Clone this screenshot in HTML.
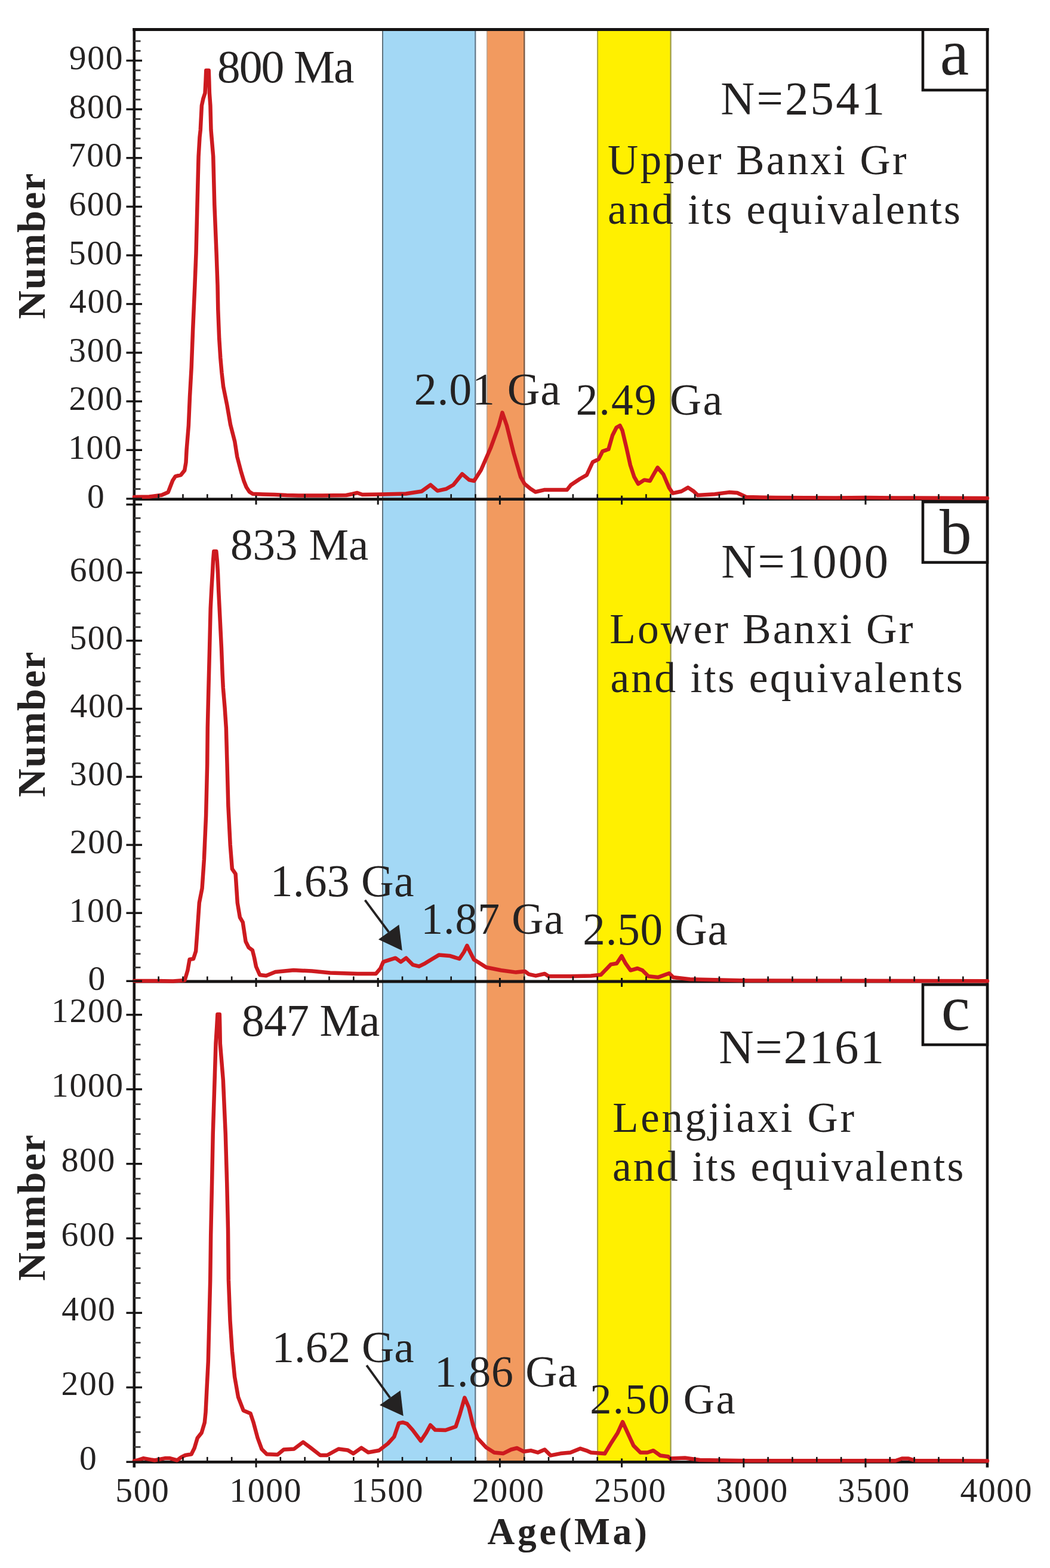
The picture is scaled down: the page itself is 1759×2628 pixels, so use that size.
<!DOCTYPE html><html><head><meta charset="utf-8"><title>Detrital zircon age spectra</title><style>html,body{margin:0;padding:0;background:#fff;}svg{display:block;}</style></head><body>
<svg width="1759" height="2628" viewBox="0 0 1759 2628">
<rect width="1759" height="2628" fill="#fff"/>
<g>
<rect x="641" y="49.5" width="155.5" height="2400.9" fill="#a3d8f5"/>
<rect x="815.5" y="49.5" width="63" height="2400.9" fill="#f29a5f"/>
<rect x="1001" y="49.5" width="123" height="2400.9" fill="#fff000"/>
<line x1="641" y1="49.5" x2="641" y2="2450.4" stroke="#60737e" stroke-width="2"/>
<line x1="796.3" y1="49.5" x2="796.3" y2="2450.4" stroke="#63798a" stroke-width="2.2"/>
<line x1="815.8" y1="49.5" x2="815.8" y2="2450.4" stroke="#bba898" stroke-width="1.6"/>
<line x1="878.3" y1="49.5" x2="878.3" y2="2450.4" stroke="#7e5d48" stroke-width="2.4"/>
<line x1="1001.1" y1="49.5" x2="1001.1" y2="2450.4" stroke="#a8a43c" stroke-width="2"/>
<line x1="1123.6" y1="49.5" x2="1123.6" y2="2450.4" stroke="#9c9a48" stroke-width="2.2"/>
</g>
<g stroke="#161414" fill="none">
<line x1="222.3" y1="49.5" x2="1656.5" y2="49.5" stroke-width="5"/>
<line x1="224.8" y1="47.0" x2="224.8" y2="2459.4" stroke-width="4.6"/>
<line x1="1654.0" y1="47.0" x2="1654.0" y2="2459.4" stroke-width="4.6"/>
<line x1="224.8" y1="836.7" x2="1654.0" y2="836.7" stroke-width="4.8"/>
<line x1="224.8" y1="1645.0" x2="1654.0" y2="1645.0" stroke-width="4.8"/>
<line x1="224.8" y1="2450.4" x2="1654.0" y2="2450.4" stroke-width="4.8"/>
</g>
<g fill="none" stroke="#cd1a1f" stroke-width="6.5" stroke-linejoin="round" stroke-linecap="round">
<polyline points="225,833 250,832.5 270.9,829.7 281.6,825.1 285.5,815 289.3,805.2 293.9,798.3 303.1,796 309.2,788.4 311.5,775 312.6,754 315.9,713.3 318,664.7 320.7,616 323.2,551.1 326.4,478 328.5,424.5 330.5,343.4 332.6,262.2 334.5,230 335.8,218 337.9,177 340.5,165 343.5,156 344.6,135 345.3,118 349.7,118 350.3,135 350.9,156 351.9,170 352.4,177 353.5,218 357.2,262.2 359.3,343.4 362.6,424.5 364.5,478 365.3,518.7 367.2,567.3 369.3,600 371.5,625 374.1,647.8 380.5,679.7 386,711.6 393.3,740 397.3,765.5 404,791 408.6,806.3 412.7,816.5 417.8,824.2 423.4,827.8 440,828.5 460,829 480,830 500,830.5 540,830.5 580,830 590,828 598.5,826 607,829 640.9,828.5 680,827.5 706.3,823.5 721.3,812.7 732.9,822.6 747.8,819.3 759.4,812.7 774.3,794.4 786,804.4 794.2,806 805.8,787.8 822.4,749.7 835.7,713.2 841.5,691.6 849,713.2 860.6,759.6 872.2,799.4 878.8,811 888.8,819.3 897,824.5 911.5,821.1 949.8,821 956.4,812.7 971.3,802.7 982.9,796.1 992.9,774.5 1002.8,769.6 1009.5,756.3 1019.4,753 1026,729.8 1032.7,716.5 1038.5,713.2 1042.6,721.5 1049.3,749.7 1055.9,779.5 1062.5,799.4 1069.2,811 1079.3,804.4 1088.9,806 1095,795 1101.6,783.6 1111.2,794.8 1120.7,817.1 1127.1,826.7 1141.5,823.5 1152.6,817.1 1162.2,823.5 1168.6,829.9 1197.3,828.3 1221.2,825.1 1235,826 1250,833 1300,834 1400,834.5 1450,834 1500,834.5 1654,835"/>
<polyline points="225,1644 260,1644 290,1644.5 309.5,1642.9 314.3,1626.7 317.6,1608 324,1607 328.1,1594.3 330.5,1561.8 333.8,1513.2 338.6,1488.9 341.9,1440.2 345.1,1367.3 347.2,1280 347.8,1219.7 349.4,1153 351.1,1086.6 352.7,1020 354.5,985 356,960 357,940 358.3,924 362.3,924 363.8,940 365,960 366.2,990 367.7,1020 371,1086.6 372.7,1131 373.8,1153 376.6,1186.4 378.8,1219.7 380.5,1280 382.4,1351.1 385.7,1415.9 388.9,1456.4 394.6,1464.6 397.8,1513.2 401.9,1537.5 406.7,1545.6 411.6,1578 416.5,1587.8 422.9,1592.6 426,1605 429,1620 435.2,1634 445.9,1635.2 461.2,1629.1 491.8,1626 522.5,1627.6 553.1,1630.6 599,1632.1 629.6,1632.1 637.3,1623 642.1,1612.1 653.6,1608.3 662.5,1605.7 671.4,1612.1 680.4,1605.7 691.8,1617.2 702,1619.7 712.2,1614.6 722.4,1608.3 735.2,1600.6 753.1,1601.9 769.6,1607 777.3,1595.5 782.4,1585 787.5,1595.5 793.9,1608.3 800,1612.1 814.6,1621.3 839.5,1626.2 864.4,1629.6 879.3,1627.9 885.9,1632.9 897.5,1635.4 912.5,1632 919.1,1636.2 955.6,1636.2 990,1635.5 1006.6,1633.8 1023.2,1616.4 1033.1,1614.7 1041.4,1602.3 1048,1614.7 1056.3,1626.3 1067.9,1623 1076.2,1626.3 1086.2,1636.3 1102.8,1637.9 1121,1631.3 1127.6,1637.9 1155.8,1641.3 1250,1643.5 1654,1644.2"/>
<polyline points="225,2448.4 230.1,2447.5 240.4,2444.1 259.1,2447.5 276.2,2444.1 284.7,2444.1 296.7,2447.5 303.5,2442.4 310.4,2439 320.6,2437.3 325.7,2427 330.8,2410 337.7,2401.4 342.8,2384.3 344.5,2367.3 346.2,2333.1 348.8,2281.9 350.5,2213.6 352.2,2145.4 353.2,2069.8 355.1,1981.8 356.7,1900.7 359.6,1810 361.5,1749 363.3,1720 364.4,1700 367.8,1700 368.3,1720 368.8,1749 373.8,1810 377.8,1900.7 380.2,1981.8 382,2060 382.9,2145.4 385.5,2213.6 388.9,2264.8 393.1,2307.5 399.1,2341.7 407.7,2363.9 419.6,2369 424.7,2384.3 431.6,2410 438.4,2428.7 446.9,2437.3 465,2438.1 475.3,2429.5 492.5,2428.5 507.8,2417 519.3,2425.7 536.5,2439 548,2439 567.1,2428.5 582.4,2430.4 592,2436.2 605.4,2426.6 616.9,2434.3 634.9,2431 649.8,2419.5 660.2,2408.1 668.2,2385.1 675.1,2384 682,2386.3 691.2,2396.6 705,2415 714.1,2401.2 721,2388.5 729.1,2396.6 746.3,2397 763.5,2391 770.4,2370.2 778.4,2342.5 785.3,2358.7 792.2,2387.4 800,2410.4 814.6,2426.1 827.9,2434.4 842.8,2436.1 856.1,2429.5 866,2427 877.6,2432.8 889.3,2431.1 900.9,2434.4 912.5,2429.5 922.4,2439.4 939,2436.1 955.6,2434.4 972.2,2427.8 982.1,2431.1 990,2434.5 1013.2,2436.2 1023.2,2419.6 1034.8,2401.4 1043.1,2383.1 1051.4,2401.4 1061.3,2422.9 1072.9,2434.5 1084.5,2434.5 1094.5,2431.2 1106.1,2439.5 1119.4,2441.2 1122.7,2444.5 1147.5,2443.5 1172.4,2447 1250,2448.3 1500,2448.3 1511,2444.5 1522,2444.5 1533,2448 1654,2448.5"/>
</g>
<g stroke="#161414" fill="none">
<line x1="265.64" y1="828.2" x2="265.64" y2="836.7" stroke-width="2.6"/>
<line x1="306.48" y1="828.2" x2="306.48" y2="836.7" stroke-width="2.6"/>
<line x1="347.32" y1="828.2" x2="347.32" y2="836.7" stroke-width="2.6"/>
<line x1="388.16" y1="828.2" x2="388.16" y2="836.7" stroke-width="2.6"/>
<line x1="429" y1="830.7" x2="429" y2="845.7" stroke-width="3"/>
<line x1="469.84" y1="828.2" x2="469.84" y2="836.7" stroke-width="2.6"/>
<line x1="510.68" y1="828.2" x2="510.68" y2="836.7" stroke-width="2.6"/>
<line x1="551.52" y1="828.2" x2="551.52" y2="836.7" stroke-width="2.6"/>
<line x1="592.36" y1="828.2" x2="592.36" y2="836.7" stroke-width="2.6"/>
<line x1="633.2" y1="830.7" x2="633.2" y2="845.7" stroke-width="3"/>
<line x1="674.04" y1="828.2" x2="674.04" y2="836.7" stroke-width="2.6"/>
<line x1="714.88" y1="828.2" x2="714.88" y2="836.7" stroke-width="2.6"/>
<line x1="755.72" y1="828.2" x2="755.72" y2="836.7" stroke-width="2.6"/>
<line x1="796.56" y1="828.2" x2="796.56" y2="836.7" stroke-width="2.6"/>
<line x1="837.4" y1="830.7" x2="837.4" y2="845.7" stroke-width="3"/>
<line x1="878.24" y1="828.2" x2="878.24" y2="836.7" stroke-width="2.6"/>
<line x1="919.08" y1="828.2" x2="919.08" y2="836.7" stroke-width="2.6"/>
<line x1="959.92" y1="828.2" x2="959.92" y2="836.7" stroke-width="2.6"/>
<line x1="1000.76" y1="828.2" x2="1000.76" y2="836.7" stroke-width="2.6"/>
<line x1="1041.6" y1="830.7" x2="1041.6" y2="845.7" stroke-width="3"/>
<line x1="1082.44" y1="828.2" x2="1082.44" y2="836.7" stroke-width="2.6"/>
<line x1="1123.28" y1="828.2" x2="1123.28" y2="836.7" stroke-width="2.6"/>
<line x1="1164.12" y1="828.2" x2="1164.12" y2="836.7" stroke-width="2.6"/>
<line x1="1204.96" y1="828.2" x2="1204.96" y2="836.7" stroke-width="2.6"/>
<line x1="1245.8" y1="830.7" x2="1245.8" y2="845.7" stroke-width="3"/>
<line x1="1286.64" y1="828.2" x2="1286.64" y2="836.7" stroke-width="2.6"/>
<line x1="1327.48" y1="828.2" x2="1327.48" y2="836.7" stroke-width="2.6"/>
<line x1="1368.32" y1="828.2" x2="1368.32" y2="836.7" stroke-width="2.6"/>
<line x1="1409.16" y1="828.2" x2="1409.16" y2="836.7" stroke-width="2.6"/>
<line x1="1450" y1="830.7" x2="1450" y2="845.7" stroke-width="3"/>
<line x1="1490.84" y1="828.2" x2="1490.84" y2="836.7" stroke-width="2.6"/>
<line x1="1531.68" y1="828.2" x2="1531.68" y2="836.7" stroke-width="2.6"/>
<line x1="1572.52" y1="828.2" x2="1572.52" y2="836.7" stroke-width="2.6"/>
<line x1="1613.36" y1="828.2" x2="1613.36" y2="836.7" stroke-width="2.6"/>
<line x1="265.64" y1="1636.5" x2="265.64" y2="1645" stroke-width="2.6"/>
<line x1="306.48" y1="1636.5" x2="306.48" y2="1645" stroke-width="2.6"/>
<line x1="347.32" y1="1636.5" x2="347.32" y2="1645" stroke-width="2.6"/>
<line x1="388.16" y1="1636.5" x2="388.16" y2="1645" stroke-width="2.6"/>
<line x1="429" y1="1639" x2="429" y2="1654" stroke-width="3"/>
<line x1="469.84" y1="1636.5" x2="469.84" y2="1645" stroke-width="2.6"/>
<line x1="510.68" y1="1636.5" x2="510.68" y2="1645" stroke-width="2.6"/>
<line x1="551.52" y1="1636.5" x2="551.52" y2="1645" stroke-width="2.6"/>
<line x1="592.36" y1="1636.5" x2="592.36" y2="1645" stroke-width="2.6"/>
<line x1="633.2" y1="1639" x2="633.2" y2="1654" stroke-width="3"/>
<line x1="674.04" y1="1636.5" x2="674.04" y2="1645" stroke-width="2.6"/>
<line x1="714.88" y1="1636.5" x2="714.88" y2="1645" stroke-width="2.6"/>
<line x1="755.72" y1="1636.5" x2="755.72" y2="1645" stroke-width="2.6"/>
<line x1="796.56" y1="1636.5" x2="796.56" y2="1645" stroke-width="2.6"/>
<line x1="837.4" y1="1639" x2="837.4" y2="1654" stroke-width="3"/>
<line x1="878.24" y1="1636.5" x2="878.24" y2="1645" stroke-width="2.6"/>
<line x1="919.08" y1="1636.5" x2="919.08" y2="1645" stroke-width="2.6"/>
<line x1="959.92" y1="1636.5" x2="959.92" y2="1645" stroke-width="2.6"/>
<line x1="1000.76" y1="1636.5" x2="1000.76" y2="1645" stroke-width="2.6"/>
<line x1="1041.6" y1="1639" x2="1041.6" y2="1654" stroke-width="3"/>
<line x1="1082.44" y1="1636.5" x2="1082.44" y2="1645" stroke-width="2.6"/>
<line x1="1123.28" y1="1636.5" x2="1123.28" y2="1645" stroke-width="2.6"/>
<line x1="1164.12" y1="1636.5" x2="1164.12" y2="1645" stroke-width="2.6"/>
<line x1="1204.96" y1="1636.5" x2="1204.96" y2="1645" stroke-width="2.6"/>
<line x1="1245.8" y1="1639" x2="1245.8" y2="1654" stroke-width="3"/>
<line x1="1286.64" y1="1636.5" x2="1286.64" y2="1645" stroke-width="2.6"/>
<line x1="1327.48" y1="1636.5" x2="1327.48" y2="1645" stroke-width="2.6"/>
<line x1="1368.32" y1="1636.5" x2="1368.32" y2="1645" stroke-width="2.6"/>
<line x1="1409.16" y1="1636.5" x2="1409.16" y2="1645" stroke-width="2.6"/>
<line x1="1450" y1="1639" x2="1450" y2="1654" stroke-width="3"/>
<line x1="1490.84" y1="1636.5" x2="1490.84" y2="1645" stroke-width="2.6"/>
<line x1="1531.68" y1="1636.5" x2="1531.68" y2="1645" stroke-width="2.6"/>
<line x1="1572.52" y1="1636.5" x2="1572.52" y2="1645" stroke-width="2.6"/>
<line x1="1613.36" y1="1636.5" x2="1613.36" y2="1645" stroke-width="2.6"/>
<line x1="265.64" y1="2441.9" x2="265.64" y2="2450.4" stroke-width="2.6"/>
<line x1="306.48" y1="2441.9" x2="306.48" y2="2450.4" stroke-width="2.6"/>
<line x1="347.32" y1="2441.9" x2="347.32" y2="2450.4" stroke-width="2.6"/>
<line x1="388.16" y1="2441.9" x2="388.16" y2="2450.4" stroke-width="2.6"/>
<line x1="429" y1="2444.4" x2="429" y2="2459.4" stroke-width="3"/>
<line x1="469.84" y1="2441.9" x2="469.84" y2="2450.4" stroke-width="2.6"/>
<line x1="510.68" y1="2441.9" x2="510.68" y2="2450.4" stroke-width="2.6"/>
<line x1="551.52" y1="2441.9" x2="551.52" y2="2450.4" stroke-width="2.6"/>
<line x1="592.36" y1="2441.9" x2="592.36" y2="2450.4" stroke-width="2.6"/>
<line x1="633.2" y1="2444.4" x2="633.2" y2="2459.4" stroke-width="3"/>
<line x1="674.04" y1="2441.9" x2="674.04" y2="2450.4" stroke-width="2.6"/>
<line x1="714.88" y1="2441.9" x2="714.88" y2="2450.4" stroke-width="2.6"/>
<line x1="755.72" y1="2441.9" x2="755.72" y2="2450.4" stroke-width="2.6"/>
<line x1="796.56" y1="2441.9" x2="796.56" y2="2450.4" stroke-width="2.6"/>
<line x1="837.4" y1="2444.4" x2="837.4" y2="2459.4" stroke-width="3"/>
<line x1="878.24" y1="2441.9" x2="878.24" y2="2450.4" stroke-width="2.6"/>
<line x1="919.08" y1="2441.9" x2="919.08" y2="2450.4" stroke-width="2.6"/>
<line x1="959.92" y1="2441.9" x2="959.92" y2="2450.4" stroke-width="2.6"/>
<line x1="1000.76" y1="2441.9" x2="1000.76" y2="2450.4" stroke-width="2.6"/>
<line x1="1041.6" y1="2444.4" x2="1041.6" y2="2459.4" stroke-width="3"/>
<line x1="1082.44" y1="2441.9" x2="1082.44" y2="2450.4" stroke-width="2.6"/>
<line x1="1123.28" y1="2441.9" x2="1123.28" y2="2450.4" stroke-width="2.6"/>
<line x1="1164.12" y1="2441.9" x2="1164.12" y2="2450.4" stroke-width="2.6"/>
<line x1="1204.96" y1="2441.9" x2="1204.96" y2="2450.4" stroke-width="2.6"/>
<line x1="1245.8" y1="2444.4" x2="1245.8" y2="2459.4" stroke-width="3"/>
<line x1="1286.64" y1="2441.9" x2="1286.64" y2="2450.4" stroke-width="2.6"/>
<line x1="1327.48" y1="2441.9" x2="1327.48" y2="2450.4" stroke-width="2.6"/>
<line x1="1368.32" y1="2441.9" x2="1368.32" y2="2450.4" stroke-width="2.6"/>
<line x1="1409.16" y1="2441.9" x2="1409.16" y2="2450.4" stroke-width="2.6"/>
<line x1="1450" y1="2444.4" x2="1450" y2="2459.4" stroke-width="3"/>
<line x1="1490.84" y1="2441.9" x2="1490.84" y2="2450.4" stroke-width="2.6"/>
<line x1="1531.68" y1="2441.9" x2="1531.68" y2="2450.4" stroke-width="2.6"/>
<line x1="1572.52" y1="2441.9" x2="1572.52" y2="2450.4" stroke-width="2.6"/>
<line x1="1613.36" y1="2441.9" x2="1613.36" y2="2450.4" stroke-width="2.6"/>
<line x1="211.5" y1="835.9" x2="238" y2="835.9" stroke-width="3.4"/>
<line x1="224.8" y1="819.58" x2="235.5" y2="819.58" stroke-width="2.8" stroke="#3a3838"/>
<line x1="224.8" y1="803.26" x2="235.5" y2="803.26" stroke-width="2.8" stroke="#3a3838"/>
<line x1="224.8" y1="786.95" x2="235.5" y2="786.95" stroke-width="2.8" stroke="#3a3838"/>
<line x1="224.8" y1="770.63" x2="235.5" y2="770.63" stroke-width="2.8" stroke="#3a3838"/>
<line x1="211.5" y1="754.31" x2="238" y2="754.31" stroke-width="3.4"/>
<line x1="224.8" y1="737.99" x2="235.5" y2="737.99" stroke-width="2.8" stroke="#3a3838"/>
<line x1="224.8" y1="721.67" x2="235.5" y2="721.67" stroke-width="2.8" stroke="#3a3838"/>
<line x1="224.8" y1="705.36" x2="235.5" y2="705.36" stroke-width="2.8" stroke="#3a3838"/>
<line x1="224.8" y1="689.04" x2="235.5" y2="689.04" stroke-width="2.8" stroke="#3a3838"/>
<line x1="211.5" y1="672.72" x2="238" y2="672.72" stroke-width="3.4"/>
<line x1="224.8" y1="656.4" x2="235.5" y2="656.4" stroke-width="2.8" stroke="#3a3838"/>
<line x1="224.8" y1="640.08" x2="235.5" y2="640.08" stroke-width="2.8" stroke="#3a3838"/>
<line x1="224.8" y1="623.77" x2="235.5" y2="623.77" stroke-width="2.8" stroke="#3a3838"/>
<line x1="224.8" y1="607.45" x2="235.5" y2="607.45" stroke-width="2.8" stroke="#3a3838"/>
<line x1="211.5" y1="591.13" x2="238" y2="591.13" stroke-width="3.4"/>
<line x1="224.8" y1="574.81" x2="235.5" y2="574.81" stroke-width="2.8" stroke="#3a3838"/>
<line x1="224.8" y1="558.49" x2="235.5" y2="558.49" stroke-width="2.8" stroke="#3a3838"/>
<line x1="224.8" y1="542.18" x2="235.5" y2="542.18" stroke-width="2.8" stroke="#3a3838"/>
<line x1="224.8" y1="525.86" x2="235.5" y2="525.86" stroke-width="2.8" stroke="#3a3838"/>
<line x1="211.5" y1="509.54" x2="238" y2="509.54" stroke-width="3.4"/>
<line x1="224.8" y1="493.22" x2="235.5" y2="493.22" stroke-width="2.8" stroke="#3a3838"/>
<line x1="224.8" y1="476.9" x2="235.5" y2="476.9" stroke-width="2.8" stroke="#3a3838"/>
<line x1="224.8" y1="460.59" x2="235.5" y2="460.59" stroke-width="2.8" stroke="#3a3838"/>
<line x1="224.8" y1="444.27" x2="235.5" y2="444.27" stroke-width="2.8" stroke="#3a3838"/>
<line x1="211.5" y1="427.95" x2="238" y2="427.95" stroke-width="3.4"/>
<line x1="224.8" y1="411.63" x2="235.5" y2="411.63" stroke-width="2.8" stroke="#3a3838"/>
<line x1="224.8" y1="395.31" x2="235.5" y2="395.31" stroke-width="2.8" stroke="#3a3838"/>
<line x1="224.8" y1="379" x2="235.5" y2="379" stroke-width="2.8" stroke="#3a3838"/>
<line x1="224.8" y1="362.68" x2="235.5" y2="362.68" stroke-width="2.8" stroke="#3a3838"/>
<line x1="211.5" y1="346.36" x2="238" y2="346.36" stroke-width="3.4"/>
<line x1="224.8" y1="330.04" x2="235.5" y2="330.04" stroke-width="2.8" stroke="#3a3838"/>
<line x1="224.8" y1="313.72" x2="235.5" y2="313.72" stroke-width="2.8" stroke="#3a3838"/>
<line x1="224.8" y1="297.41" x2="235.5" y2="297.41" stroke-width="2.8" stroke="#3a3838"/>
<line x1="224.8" y1="281.09" x2="235.5" y2="281.09" stroke-width="2.8" stroke="#3a3838"/>
<line x1="211.5" y1="264.77" x2="238" y2="264.77" stroke-width="3.4"/>
<line x1="224.8" y1="248.45" x2="235.5" y2="248.45" stroke-width="2.8" stroke="#3a3838"/>
<line x1="224.8" y1="232.13" x2="235.5" y2="232.13" stroke-width="2.8" stroke="#3a3838"/>
<line x1="224.8" y1="215.82" x2="235.5" y2="215.82" stroke-width="2.8" stroke="#3a3838"/>
<line x1="224.8" y1="199.5" x2="235.5" y2="199.5" stroke-width="2.8" stroke="#3a3838"/>
<line x1="211.5" y1="183.18" x2="238" y2="183.18" stroke-width="3.4"/>
<line x1="224.8" y1="166.86" x2="235.5" y2="166.86" stroke-width="2.8" stroke="#3a3838"/>
<line x1="224.8" y1="150.54" x2="235.5" y2="150.54" stroke-width="2.8" stroke="#3a3838"/>
<line x1="224.8" y1="134.23" x2="235.5" y2="134.23" stroke-width="2.8" stroke="#3a3838"/>
<line x1="224.8" y1="117.91" x2="235.5" y2="117.91" stroke-width="2.8" stroke="#3a3838"/>
<line x1="211.5" y1="101.59" x2="238" y2="101.59" stroke-width="3.4"/>
<line x1="224.8" y1="85.27" x2="235.5" y2="85.27" stroke-width="2.8" stroke="#3a3838"/>
<line x1="224.8" y1="68.95" x2="235.5" y2="68.95" stroke-width="2.8" stroke="#3a3838"/>
<line x1="211.5" y1="1644.3" x2="238" y2="1644.3" stroke-width="3.4"/>
<line x1="224.8" y1="1621.48" x2="235.5" y2="1621.48" stroke-width="2.8" stroke="#3a3838"/>
<line x1="224.8" y1="1598.66" x2="235.5" y2="1598.66" stroke-width="2.8" stroke="#3a3838"/>
<line x1="224.8" y1="1575.84" x2="235.5" y2="1575.84" stroke-width="2.8" stroke="#3a3838"/>
<line x1="224.8" y1="1553.02" x2="235.5" y2="1553.02" stroke-width="2.8" stroke="#3a3838"/>
<line x1="211.5" y1="1530.2" x2="238" y2="1530.2" stroke-width="3.4"/>
<line x1="224.8" y1="1507.38" x2="235.5" y2="1507.38" stroke-width="2.8" stroke="#3a3838"/>
<line x1="224.8" y1="1484.56" x2="235.5" y2="1484.56" stroke-width="2.8" stroke="#3a3838"/>
<line x1="224.8" y1="1461.74" x2="235.5" y2="1461.74" stroke-width="2.8" stroke="#3a3838"/>
<line x1="224.8" y1="1438.92" x2="235.5" y2="1438.92" stroke-width="2.8" stroke="#3a3838"/>
<line x1="211.5" y1="1416.1" x2="238" y2="1416.1" stroke-width="3.4"/>
<line x1="224.8" y1="1393.28" x2="235.5" y2="1393.28" stroke-width="2.8" stroke="#3a3838"/>
<line x1="224.8" y1="1370.46" x2="235.5" y2="1370.46" stroke-width="2.8" stroke="#3a3838"/>
<line x1="224.8" y1="1347.64" x2="235.5" y2="1347.64" stroke-width="2.8" stroke="#3a3838"/>
<line x1="224.8" y1="1324.82" x2="235.5" y2="1324.82" stroke-width="2.8" stroke="#3a3838"/>
<line x1="211.5" y1="1302" x2="238" y2="1302" stroke-width="3.4"/>
<line x1="224.8" y1="1279.18" x2="235.5" y2="1279.18" stroke-width="2.8" stroke="#3a3838"/>
<line x1="224.8" y1="1256.36" x2="235.5" y2="1256.36" stroke-width="2.8" stroke="#3a3838"/>
<line x1="224.8" y1="1233.54" x2="235.5" y2="1233.54" stroke-width="2.8" stroke="#3a3838"/>
<line x1="224.8" y1="1210.72" x2="235.5" y2="1210.72" stroke-width="2.8" stroke="#3a3838"/>
<line x1="211.5" y1="1187.9" x2="238" y2="1187.9" stroke-width="3.4"/>
<line x1="224.8" y1="1165.08" x2="235.5" y2="1165.08" stroke-width="2.8" stroke="#3a3838"/>
<line x1="224.8" y1="1142.26" x2="235.5" y2="1142.26" stroke-width="2.8" stroke="#3a3838"/>
<line x1="224.8" y1="1119.44" x2="235.5" y2="1119.44" stroke-width="2.8" stroke="#3a3838"/>
<line x1="224.8" y1="1096.62" x2="235.5" y2="1096.62" stroke-width="2.8" stroke="#3a3838"/>
<line x1="211.5" y1="1073.8" x2="238" y2="1073.8" stroke-width="3.4"/>
<line x1="224.8" y1="1050.98" x2="235.5" y2="1050.98" stroke-width="2.8" stroke="#3a3838"/>
<line x1="224.8" y1="1028.16" x2="235.5" y2="1028.16" stroke-width="2.8" stroke="#3a3838"/>
<line x1="224.8" y1="1005.34" x2="235.5" y2="1005.34" stroke-width="2.8" stroke="#3a3838"/>
<line x1="224.8" y1="982.52" x2="235.5" y2="982.52" stroke-width="2.8" stroke="#3a3838"/>
<line x1="211.5" y1="959.7" x2="238" y2="959.7" stroke-width="3.4"/>
<line x1="224.8" y1="936.88" x2="235.5" y2="936.88" stroke-width="2.8" stroke="#3a3838"/>
<line x1="224.8" y1="914.06" x2="235.5" y2="914.06" stroke-width="2.8" stroke="#3a3838"/>
<line x1="224.8" y1="891.24" x2="235.5" y2="891.24" stroke-width="2.8" stroke="#3a3838"/>
<line x1="224.8" y1="868.42" x2="235.5" y2="868.42" stroke-width="2.8" stroke="#3a3838"/>
<line x1="211.5" y1="845.6" x2="238" y2="845.6" stroke-width="3.4"/>
<line x1="211.5" y1="2450.2" x2="238" y2="2450.2" stroke-width="3.4"/>
<line x1="224.8" y1="2425.22" x2="235.5" y2="2425.22" stroke-width="2.8" stroke="#3a3838"/>
<line x1="224.8" y1="2400.24" x2="235.5" y2="2400.24" stroke-width="2.8" stroke="#3a3838"/>
<line x1="224.8" y1="2375.26" x2="235.5" y2="2375.26" stroke-width="2.8" stroke="#3a3838"/>
<line x1="224.8" y1="2350.28" x2="235.5" y2="2350.28" stroke-width="2.8" stroke="#3a3838"/>
<line x1="211.5" y1="2325.3" x2="238" y2="2325.3" stroke-width="3.4"/>
<line x1="224.8" y1="2300.32" x2="235.5" y2="2300.32" stroke-width="2.8" stroke="#3a3838"/>
<line x1="224.8" y1="2275.34" x2="235.5" y2="2275.34" stroke-width="2.8" stroke="#3a3838"/>
<line x1="224.8" y1="2250.36" x2="235.5" y2="2250.36" stroke-width="2.8" stroke="#3a3838"/>
<line x1="224.8" y1="2225.38" x2="235.5" y2="2225.38" stroke-width="2.8" stroke="#3a3838"/>
<line x1="211.5" y1="2200.4" x2="238" y2="2200.4" stroke-width="3.4"/>
<line x1="224.8" y1="2175.42" x2="235.5" y2="2175.42" stroke-width="2.8" stroke="#3a3838"/>
<line x1="224.8" y1="2150.44" x2="235.5" y2="2150.44" stroke-width="2.8" stroke="#3a3838"/>
<line x1="224.8" y1="2125.46" x2="235.5" y2="2125.46" stroke-width="2.8" stroke="#3a3838"/>
<line x1="224.8" y1="2100.48" x2="235.5" y2="2100.48" stroke-width="2.8" stroke="#3a3838"/>
<line x1="211.5" y1="2075.5" x2="238" y2="2075.5" stroke-width="3.4"/>
<line x1="224.8" y1="2050.52" x2="235.5" y2="2050.52" stroke-width="2.8" stroke="#3a3838"/>
<line x1="224.8" y1="2025.54" x2="235.5" y2="2025.54" stroke-width="2.8" stroke="#3a3838"/>
<line x1="224.8" y1="2000.56" x2="235.5" y2="2000.56" stroke-width="2.8" stroke="#3a3838"/>
<line x1="224.8" y1="1975.58" x2="235.5" y2="1975.58" stroke-width="2.8" stroke="#3a3838"/>
<line x1="211.5" y1="1950.6" x2="238" y2="1950.6" stroke-width="3.4"/>
<line x1="224.8" y1="1925.62" x2="235.5" y2="1925.62" stroke-width="2.8" stroke="#3a3838"/>
<line x1="224.8" y1="1900.64" x2="235.5" y2="1900.64" stroke-width="2.8" stroke="#3a3838"/>
<line x1="224.8" y1="1875.66" x2="235.5" y2="1875.66" stroke-width="2.8" stroke="#3a3838"/>
<line x1="224.8" y1="1850.68" x2="235.5" y2="1850.68" stroke-width="2.8" stroke="#3a3838"/>
<line x1="211.5" y1="1825.7" x2="238" y2="1825.7" stroke-width="3.4"/>
<line x1="224.8" y1="1800.72" x2="235.5" y2="1800.72" stroke-width="2.8" stroke="#3a3838"/>
<line x1="224.8" y1="1775.74" x2="235.5" y2="1775.74" stroke-width="2.8" stroke="#3a3838"/>
<line x1="224.8" y1="1750.76" x2="235.5" y2="1750.76" stroke-width="2.8" stroke="#3a3838"/>
<line x1="224.8" y1="1725.78" x2="235.5" y2="1725.78" stroke-width="2.8" stroke="#3a3838"/>
<line x1="211.5" y1="1700.8" x2="238" y2="1700.8" stroke-width="3.4"/>
<line x1="224.8" y1="1675.82" x2="235.5" y2="1675.82" stroke-width="2.8" stroke="#3a3838"/>
</g>
<g font-family="'Liberation Serif','Times New Roman',serif" fill="#242222">
<text x="146.03" y="850.54" font-size="57.5" letter-spacing="1.7">0</text>
<text x="114.14" y="768.95" font-size="57.5" letter-spacing="1.7">100</text>
<text x="115.41" y="687.36" font-size="57.5" letter-spacing="1.7">200</text>
<text x="115.29" y="605.77" font-size="57.5" letter-spacing="1.7">300</text>
<text x="116.11" y="524.18" font-size="57.5" letter-spacing="1.7">400</text>
<text x="115" y="442.59" font-size="57.5" letter-spacing="1.7">500</text>
<text x="115.43" y="361" font-size="57.5" letter-spacing="1.7">600</text>
<text x="114.77" y="279.41" font-size="57.5" letter-spacing="1.7">700</text>
<text x="115.58" y="197.82" font-size="57.5" letter-spacing="1.7">800</text>
<text x="115.74" y="116.23" font-size="57.5" letter-spacing="1.7">900</text>
<text x="147.43" y="1658.64" font-size="57.5" letter-spacing="1.7">0</text>
<text x="115.54" y="1544.54" font-size="57.5" letter-spacing="1.7">100</text>
<text x="116.81" y="1430.44" font-size="57.5" letter-spacing="1.7">200</text>
<text x="116.69" y="1316.34" font-size="57.5" letter-spacing="1.7">300</text>
<text x="117.51" y="1202.24" font-size="57.5" letter-spacing="1.7">400</text>
<text x="116.4" y="1088.14" font-size="57.5" letter-spacing="1.7">500</text>
<text x="116.83" y="974.04" font-size="57.5" letter-spacing="1.7">600</text>
<text x="133.12" y="2462.74" font-size="57.5" letter-spacing="1.7">0</text>
<text x="102.51" y="2337.84" font-size="57.5" letter-spacing="1.7">200</text>
<text x="103.21" y="2212.94" font-size="57.5" letter-spacing="1.7">400</text>
<text x="102.53" y="2088.04" font-size="57.5" letter-spacing="1.7">600</text>
<text x="102.67" y="1963.14" font-size="57.5" letter-spacing="1.7">800</text>
<text x="86.02" y="1838.24" font-size="57.5" letter-spacing="1.7">1000</text>
<text x="86.02" y="1713.34" font-size="57.5" letter-spacing="1.7">1200</text>
<text x="193.2" y="2516.84" font-size="57.5" letter-spacing="1.7">500</text>
<text x="384.32" y="2516.84" font-size="57.5" letter-spacing="1.7">1000</text>
<text x="588.52" y="2516.84" font-size="57.5" letter-spacing="1.7">1500</text>
<text x="790.98" y="2516.84" font-size="57.5" letter-spacing="1.7">2000</text>
<text x="995.18" y="2516.84" font-size="57.5" letter-spacing="1.7">2500</text>
<text x="1199.27" y="2516.84" font-size="57.5" letter-spacing="1.7">3000</text>
<text x="1403.47" y="2516.84" font-size="57.5" letter-spacing="1.7">3500</text>
<text x="1608.48" y="2516.84" font-size="57.5" letter-spacing="1.7">4000</text>
<text x="363.84" y="137.5" font-size="77.74" letter-spacing="-1.99">800 Ma</text>
<text x="693.66" y="678.4" font-size="75.94" letter-spacing="0.83">2.01 Ga</text>
<text x="964.68" y="694.6" font-size="73.25" letter-spacing="2.22">2.49 Ga</text>
<text x="1207.33" y="190.8" font-size="78.84" letter-spacing="3.15">N=2541</text>
<text x="1018.11" y="292.2" font-size="70.83" letter-spacing="3.4">Upper Banxi Gr</text>
<text x="1017.98" y="375" font-size="71.63" letter-spacing="3.22">and its equivalents</text>
<text x="385.95" y="937.5" font-size="74.88" letter-spacing="0.12">833 Ma</text>
<text x="1208.18" y="967.9" font-size="80.6" letter-spacing="3.01">N=1000</text>
<text x="1021.34" y="1078.4" font-size="71.44" letter-spacing="3.07">Lower Banxi Gr</text>
<text x="1022.38" y="1160.2" font-size="71.63" letter-spacing="3.19">and its equivalents</text>
<text x="452.65" y="1502.4" font-size="75.67" letter-spacing="0.22">1.63 Ga</text>
<text x="705.31" y="1564.5" font-size="73.83" letter-spacing="0.88">1.87 Ga</text>
<text x="976.3" y="1583" font-size="75.18" letter-spacing="0.78">2.50 Ga</text>
<text x="404.8" y="1736" font-size="76.24" letter-spacing="-0.68">847 Ma</text>
<text x="1204.37" y="1782.2" font-size="80.95" letter-spacing="2.17">N=2161</text>
<text x="1026.36" y="1897.1" font-size="70.83" letter-spacing="3.71">Lengjiaxi Gr</text>
<text x="1025.88" y="1978.8" font-size="71.63" letter-spacing="3.09">and its equivalents</text>
<text x="455.4" y="2283.3" font-size="75.06" letter-spacing="0.08">1.62 Ga</text>
<text x="728.11" y="2324.2" font-size="73.83" letter-spacing="0.88">1.86 Ga</text>
<text x="988.21" y="2368.6" font-size="72.48" letter-spacing="2.34">2.50 Ga</text>
<text x="816.58" y="2588.4" font-size="63.56" letter-spacing="4.57" font-weight="bold">Age(Ma)</text>
<text transform="translate(75,534.85) rotate(-90)" font-size="65.86" font-weight="bold" letter-spacing="2.02">Number</text>
<text transform="translate(75,1336.05) rotate(-90)" font-size="65.86" font-weight="bold" letter-spacing="1.9">Number</text>
<text transform="translate(75,2146.75) rotate(-90)" font-size="65.86" font-weight="bold" letter-spacing="2.14">Number</text>
</g>
<rect x="1546" y="49.5" width="108" height="101.5" fill="#fff" stroke="#161414" stroke-width="4.6"/>
<g font-family="'Liberation Serif','Times New Roman',serif" fill="#242222"><text x="1574.66" y="125" font-size="109.11" letter-spacing="0">a</text></g>
<rect x="1546" y="841.2" width="108" height="101.4" fill="#fff" stroke="#161414" stroke-width="4.6"/>
<g font-family="'Liberation Serif','Times New Roman',serif" fill="#242222"><text x="1574" y="928" font-size="107.52" letter-spacing="0">b</text></g>
<rect x="1546" y="1650.3" width="108" height="100.7" fill="#fff" stroke="#161414" stroke-width="4.6"/>
<g font-family="'Liberation Serif','Times New Roman',serif" fill="#242222"><text x="1576.87" y="1725.7" font-size="108.45" letter-spacing="0">c</text></g>
<g stroke="#161414">
<line x1="1540" y1="49.5" x2="1656.5" y2="49.5" stroke-width="5"/>
</g>
<line x1="611.5" y1="1508.7" x2="651.25" y2="1562.1" stroke="#242222" stroke-width="3.8"/><polygon points="634,1574.5 668.5,1549.7 673.8,1593.3" fill="#242222"/>
<line x1="614.2" y1="2288.4" x2="653.4" y2="2342.65" stroke="#242222" stroke-width="3.8"/><polygon points="636,2354.9 670.8,2330.4 675.7,2373.3" fill="#242222"/>
</svg></body></html>
